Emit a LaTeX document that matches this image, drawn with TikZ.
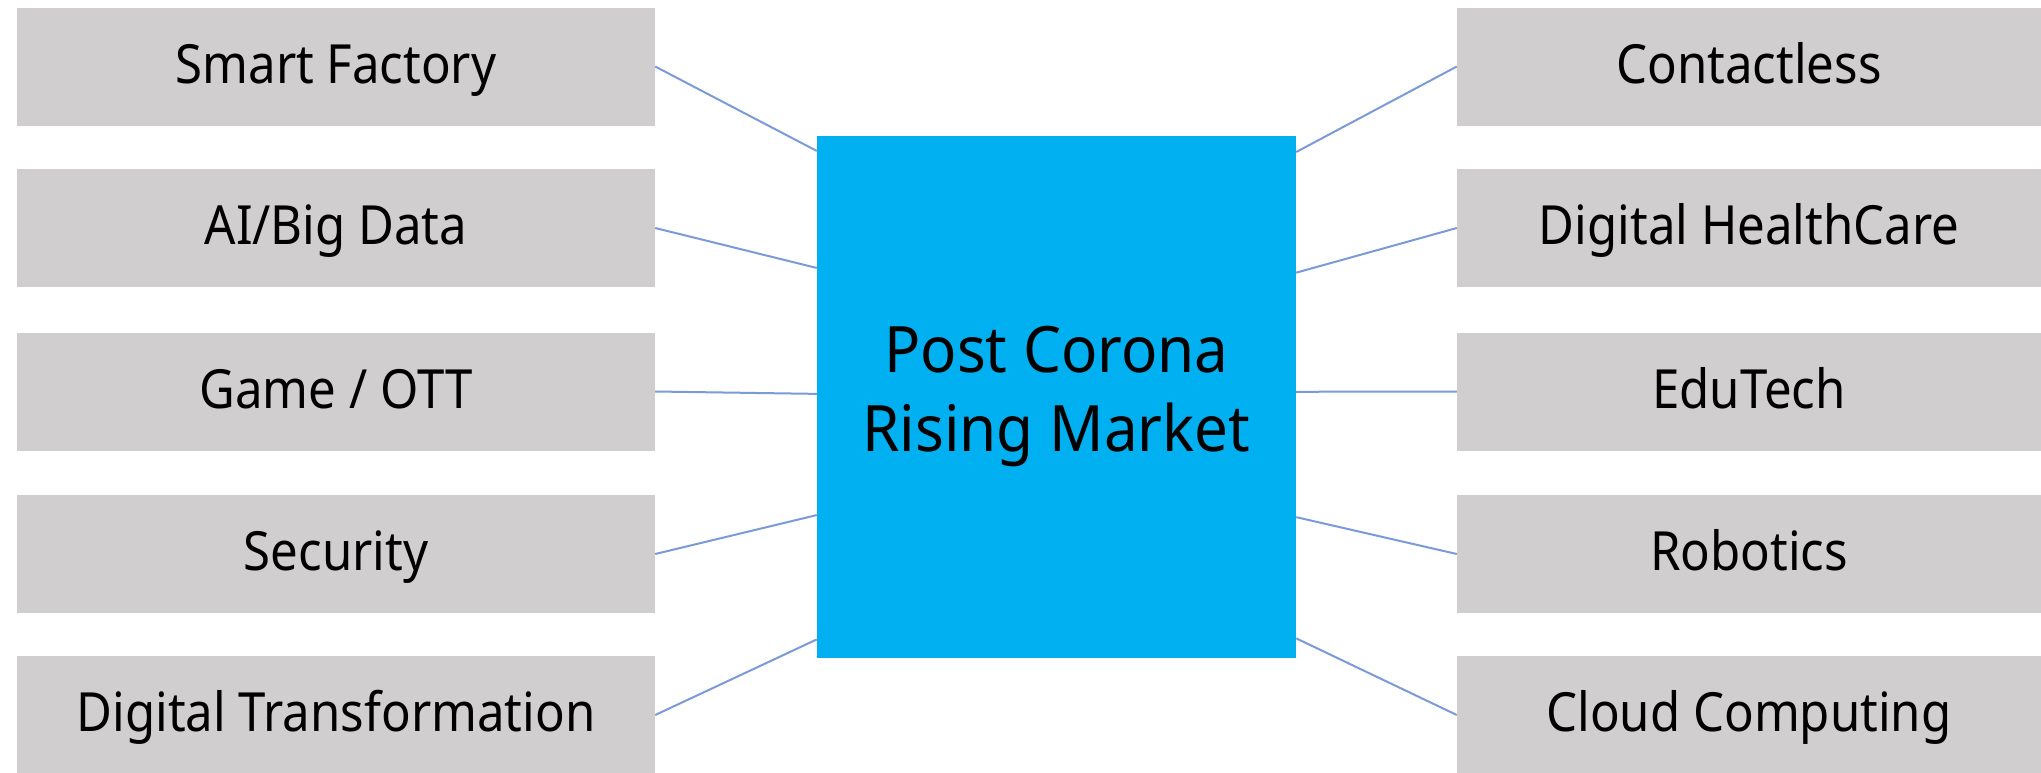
\documentclass[tikz,border=0pt]{standalone}
\usepackage{fontspec}
\usetikzlibrary{calc}
\newfontfamily\lblfont[FakeStretch=0.91]{Noto Sans}
\newfontfamily\ctrfont[FakeStretch=0.94]{Noto Sans}
\definecolor{boxgray}{HTML}{D0CECE}
\definecolor{ctrblue}{HTML}{00B0F0}
\definecolor{linkblue}{HTML}{7A9BD8}
\begin{document}
\begin{tikzpicture}[x=1pt,y=-1pt,
  item/.style={fill=boxgray,draw=none,inner sep=0pt,minimum height=118pt,
    text height=40pt,text depth=7pt,
    font=\lblfont\fontsize{54}{60}\selectfont,text=black},
  leftitem/.style={item,minimum width=638pt},
  rightitem/.style={item,minimum width=584pt},
  hub/.style={fill=ctrblue,draw=none,inner sep=0pt,minimum width=479pt,minimum height=522pt,
    align=center,font=\ctrfont\fontsize{64}{79}\selectfont},
  link/.style={draw=linkblue,line width=2pt}]
\useasboundingbox (0,0) rectangle (2041,772);
\fill[white] (0,0) rectangle (2041,772);

\node[hub] (c) at (1056.5,397) {Post Corona\\Rising Market};

\node[leftitem] (l1) at (336,66.5) {Smart Factory};
\node[leftitem] (l2) at (336,228) {AI/Big Data};
\node[leftitem] (l3) at (336,391.5) {Game / OTT};
\node[leftitem] (l4) at (336,554) {Security};
\node[leftitem] (l5) at (336,715) {Digital Transformation};

\node[rightitem] (r1) at (1749,66.5) {Contactless};
\node[rightitem] (r2) at (1749,228) {Digital HealthCare};
\node[rightitem] (r3) at (1749,391.5) {EduTech};
\node[rightitem] (r4) at (1749,554) {Robotics};
\node[rightitem] (r5) at (1749,715) {Cloud Computing};

\draw[link] (l1.east) -- ($(c.north west)!0.029!(c.south west)$);
\draw[link] (l2.east) -- ($(c.north west)!0.253!(c.south west)$);
\draw[link] (l3.east) -- ($(c.north west)!0.494!(c.south west)$);
\draw[link] (l4.east) -- ($(c.north west)!0.726!(c.south west)$);
\draw[link] (l5.east) -- ($(c.north west)!0.964!(c.south west)$);

\draw[link] (r1.west) -- ($(c.north east)!0.031!(c.south east)$);
\draw[link] (r2.west) -- ($(c.north east)!0.262!(c.south east)$);
\draw[link] (r3.west) -- ($(c.north east)!0.49!(c.south east)$);
\draw[link] (r4.west) -- ($(c.north east)!0.73!(c.south east)$);
\draw[link] (r5.west) -- ($(c.north east)!0.962!(c.south east)$);
\end{tikzpicture}
\end{document}
